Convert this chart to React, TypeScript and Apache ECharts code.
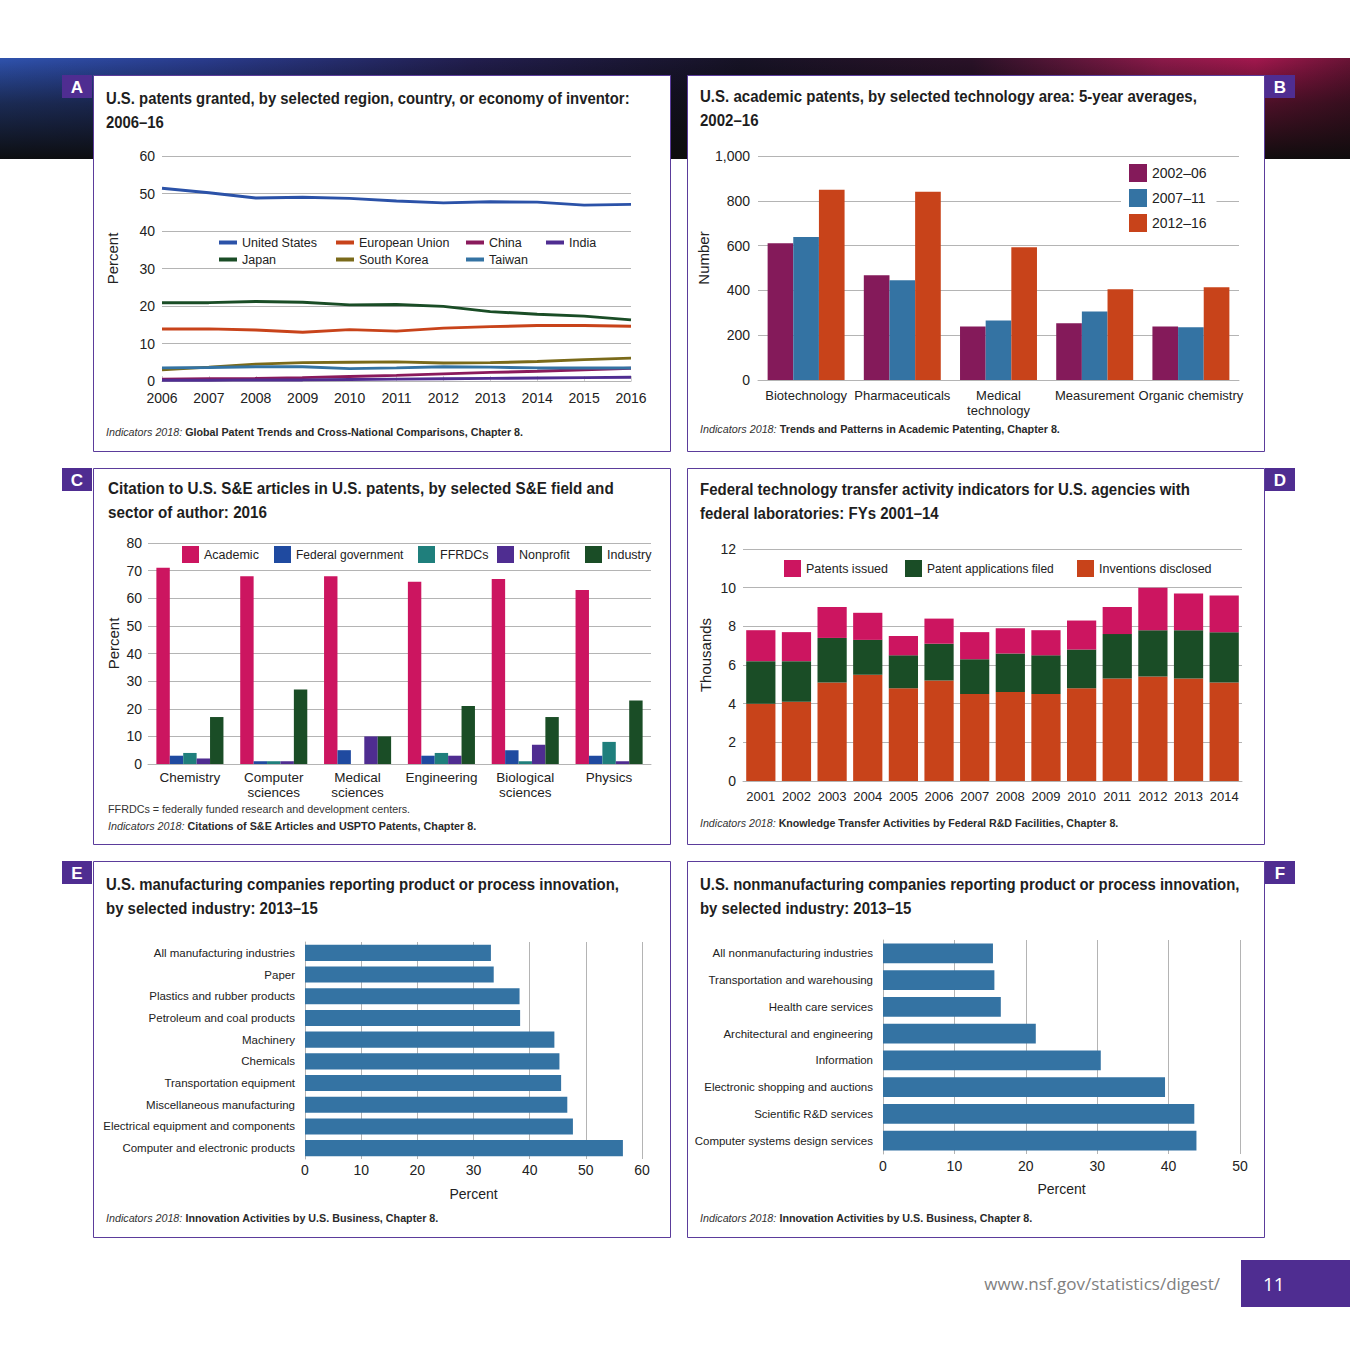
import React, { useEffect, useRef } from "react";
import * as echarts from "echarts";

const FONT = "'Liberation Sans', Arial, sans-serif";

// ---- Panel A: U.S. patents granted by inventor region (percent)
const yearsA = ["2006", "2007", "2008", "2009", "2010", "2011", "2012", "2013", "2014", "2015", "2016"];
const usA = [51.4, 50.2, 48.8, 49.0, 48.7, 48.0, 47.5, 47.8, 47.7, 46.9, 47.1];
const euA = [13.9, 13.9, 13.6, 13.0, 13.7, 13.3, 14.1, 14.5, 14.8, 14.8, 14.6];
const chinaA = [0.5, 0.6, 0.7, 0.9, 1.2, 1.5, 1.9, 2.3, 2.6, 3.0, 3.4];
const indiaA = [0.2, 0.2, 0.3, 0.3, 0.4, 0.5, 0.6, 0.7, 0.8, 0.9, 1.0];
const japanA = [20.9, 20.9, 21.2, 21.0, 20.3, 20.4, 19.9, 18.5, 17.8, 17.3, 16.3];
const koreaA = [3.0, 3.7, 4.5, 4.9, 5.0, 5.1, 4.8, 4.9, 5.2, 5.7, 6.1];
const taiwanA = [3.5, 3.6, 3.8, 3.8, 3.3, 3.5, 3.8, 3.7, 3.5, 3.5, 3.5];

// ---- Panel B: academic patents by technology area
const catsB = ["Biotechnology", "Pharmaceuticals", "Medical\ntechnology", "Measurement", "Organic chemistry"];
const b0206 = [611, 468, 239, 253, 239];
const b0711 = [638, 445, 266, 306, 235];
const b1216 = [849, 840, 593, 405, 414];

// ---- Panel C: citations by field and sector (percent)
const catsC = ["Chemistry", "Computer\nsciences", "Medical\nsciences", "Engineering", "Biological\nsciences", "Physics"];
const cAcademic = [71, 68, 68, 66, 67, 63];
const cFederal = [3, 1, 5, 3, 5, 3];
const cFFRDC = [4, 1, 0, 4, 1, 8];
const cNonprofit = [2, 1, 10, 3, 7, 1];
const cIndustry = [17, 27, 10, 21, 17, 23];

// ---- Panel D: federal technology transfer (thousands)
const yearsD = ["2001", "2002", "2003", "2004", "2005", "2006", "2007", "2008", "2009", "2010", "2011", "2012", "2013", "2014"];
const dInventions = [4.0, 4.1, 5.1, 5.5, 4.8, 5.2, 4.5, 4.6, 4.5, 4.8, 5.3, 5.4, 5.3, 5.1];
const dApplications = [2.2, 2.1, 2.3, 1.8, 1.7, 1.9, 1.8, 2.0, 2.0, 2.0, 2.3, 2.4, 2.5, 2.6];
const dPatents = [1.6, 1.5, 1.6, 1.4, 1.0, 1.3, 1.4, 1.3, 1.3, 1.5, 1.4, 2.2, 1.9, 1.9];

// ---- Panel E: manufacturing innovation (percent)
const catsE = [
  "All manufacturing industries",
  "Paper",
  "Plastics and rubber products",
  "Petroleum and coal products",
  "Machinery",
  "Chemicals",
  "Transportation equipment",
  "Miscellaneous manufacturing",
  "Electrical equipment and components",
  "Computer and electronic products",
];
const valsE = [33.1, 33.6, 38.2, 38.3, 44.4, 45.3, 45.6, 46.7, 47.7, 56.6];

// ---- Panel F: nonmanufacturing innovation (percent)
const catsF = [
  "All nonmanufacturing industries",
  "Transportation and warehousing",
  "Health care services",
  "Architectural and engineering",
  "Information",
  "Electronic shopping and auctions",
  "Scientific R&D services",
  "Computer systems design services",
];
const valsF = [15.4, 15.6, 16.5, 21.4, 30.5, 39.5, 43.6, 43.9];

// ---- Titles and source notes
const titlesText = [
  ["U.S. patents granted, by selected region, country, or economy of inventor:", "2006–16"],
  ["U.S. academic patents, by selected technology area: 5-year averages,", "2002–16"],
  ["Citation to U.S. S&E articles in U.S. patents, by selected S&E field and", "sector of author: 2016"],
  ["Federal technology transfer activity indicators for U.S. agencies with", "federal laboratories: FYs 2001–14"],
  ["U.S. manufacturing companies reporting product or process innovation,", "by selected industry: 2013–15"],
  ["U.S. nonmanufacturing companies reporting product or process innovation,", "by selected industry: 2013–15"],
];
const sourcesText = [
  "Global Patent Trends and Cross-National Comparisons, Chapter 8.",
  "Trends and Patterns in Academic Patenting, Chapter 8.",
  "Citations of S&E Articles and USPTO Patents, Chapter 8.",
  "Knowledge Transfer Activities by Federal R&D Facilities, Chapter 8.",
  "Innovation Activities by U.S. Business, Chapter 8.",
  "Innovation Activities by U.S. Business, Chapter 8.",
];
const noteC = "FFRDCs = federally funded research and development centers.";

const C = {
  blue: "#2b52a8",
  orange: "#c8431a",
  plum: "#8a1a5c",
  purple: "#4f2d91",
  green: "#1a4d26",
  olive: "#7a6a1a",
  steel: "#3473a3",
  crimson: "#cc1560",
  navy: "#1f4aa0",
  teal: "#1f7f7c",
  berry: "#841a5a",
};

const labelStyle = { color: "#222", fontSize: 14, fontFamily: FONT };
const gridLine = { show: true, lineStyle: { color: "#b4b4b4", width: 1 } };

let measureCtx: CanvasRenderingContext2D | null = null;
function measure(text: string, font: string) {
  if (!measureCtx) measureCtx = document.createElement("canvas").getContext("2d");
  measureCtx!.font = font;
  return measureCtx!.measureText(text).width;
}

function legendItem(name: string, left: number, top: number, w: number, h: number, fs: number) {
  return {
    data: [name],
    left,
    top,
    padding: 0,
    itemWidth: w,
    itemHeight: h,
    itemGap: 6,
    icon: "rect",
    selectedMode: false,
    textStyle: { color: "#222", fontSize: fs, fontFamily: FONT },
  };
}

const TITLE_FONT = "bold 17px " + FONT;
function titleGraphic(lines: string[], x: number, y: number, targetW: number) {
  const s = targetW / measure(lines[0], TITLE_FONT);
  return {
    type: "text",
    z: 5,
    x,
    y,
    scaleX: s,
    style: {
      text: lines.join("\n"),
      fill: "#1e1e1e",
      font: TITLE_FONT,
      lineHeight: 24,
      textAlign: "left",
      textVerticalAlign: "top",
    },
  };
}

const NOTE_FS = 11.5;
function noteGraphic(lines: string[], source: string, x: number, y: number, targetW: number) {
  const w =
    measure("Indicators 2018:", "italic " + NOTE_FS + "px " + FONT) +
    measure(" " + source, "bold " + NOTE_FS + "px " + FONT);
  const s = targetW / w;
  const text = [...lines.map((l) => "{r|" + l + "}"), "{i|Indicators 2018:}{n| " + source + "}"].join("\n");
  return {
    type: "text",
    z: 5,
    x,
    y,
    scaleX: s,
    style: {
      text,
      fill: "#222",
      fontSize: NOTE_FS,
      fontFamily: FONT,
      lineHeight: 17,
      textVerticalAlign: "top",
      rich: {
        i: { fontStyle: "italic", fontSize: NOTE_FS, fontFamily: FONT, fill: "#333", lineHeight: 17 },
        n: { fontWeight: "bold", fontSize: NOTE_FS, fontFamily: FONT, fill: "#2a2a2a", lineHeight: 17 },
        r: { fontSize: NOTE_FS, fontFamily: FONT, fill: "#333", lineHeight: 17 },
      },
    },
  };
}

function panel(x: number, y: number, letter: string, labelLeft: boolean) {
  const lx = labelLeft ? x - 31 : x + 578;
  return [
    {
      type: "rect",
      z: -5,
      shape: { x: x + 0.5, y: y + 0.5, width: 577, height: 376 },
      style: { fill: "#fff", stroke: "#5b3c9b", lineWidth: 1 },
    },
    {
      type: "rect",
      z: -4,
      shape: { x: lx, y, width: 30, height: 23 },
      style: { fill: "#4f2d91" },
    },
    {
      type: "text",
      z: -3,
      x: lx + 15,
      y: y + 12,
      style: {
        text: letter,
        fill: "#fff",
        font: "bold 17px " + FONT,
        textAlign: "center",
        textVerticalAlign: "middle",
      },
    },
  ];
}

const yName = (name: string, gap: number) => ({
  name,
  nameLocation: "middle",
  nameGap: gap,
  nameRotate: 90,
  nameTextStyle: { color: "#222", fontSize: 15, fontFamily: FONT, padding: [0, 0, 0, 20] },
});

export default function App() {
  const ref = useRef<HTMLDivElement>(null);

  useEffect(() => {
    if (!ref.current) return;
    const chart = echarts.init(ref.current, null, { renderer: "svg" });

    const option: any = {
      animation: false,
      backgroundColor: "#fff",
      graphic: {
        elements: [
          {
            type: "rect",
            z: -20,
            shape: { x: 0, y: 58, width: 1350, height: 101 },
            style: {
              fill: new echarts.graphic.LinearGradient(0, 0, 1, 0, [
                { offset: 0, color: "#2f52ad" },
                { offset: 0.15, color: "#2a3c8e" },
                { offset: 0.35, color: "#221e4e" },
                { offset: 0.55, color: "#171326" },
                { offset: 0.72, color: "#2a1228" },
                { offset: 0.86, color: "#8c1a4a" },
                { offset: 0.93, color: "#a3184e" },
                { offset: 1, color: "#6a1436" },
              ]),
            },
          },
          {
            type: "rect",
            z: -19,
            shape: { x: 0, y: 58, width: 1350, height: 101 },
            style: {
              fill: new echarts.graphic.LinearGradient(0, 0, 0, 1, [
                { offset: 0, color: "rgba(0,0,0,0)" },
                { offset: 0.45, color: "rgba(10,10,10,0.55)" },
                { offset: 1, color: "rgba(12,12,12,0.97)" },
              ]),
            },
          },
          ...panel(93, 75, "A", true),
          ...panel(687, 75, "B", false),
          ...panel(93, 468, "C", true),
          ...panel(687, 468, "D", false),
          ...panel(93, 861, "E", true),
          ...panel(687, 861, "F", false),
          titleGraphic(titlesText[0], 106, 86, 524),
          titleGraphic(titlesText[1], 700, 84, 497),
          titleGraphic(titlesText[2], 108, 476, 506),
          titleGraphic(titlesText[3], 700, 477, 490),
          titleGraphic(titlesText[4], 106, 872, 513),
          titleGraphic(titlesText[5], 700, 872, 540),
          noteGraphic([], sourcesText[0], 106, 423, 417),
          noteGraphic([], sourcesText[1], 700, 420, 361),
          noteGraphic([noteC], sourcesText[2], 108, 800, 369),
          noteGraphic([], sourcesText[3], 700, 814, 419),
          noteGraphic([], sourcesText[4], 106, 1209, 333),
          noteGraphic([], sourcesText[5], 700, 1209, 333),
          {
            type: "text",
            z: 10,
            x: 1220,
            y: 1283,
            style: {
              text: "www.nsf.gov/statistics/digest/",
              fill: "#808080",
              font: "17px 'Open Sans', sans-serif",
              textAlign: "right",
              textVerticalAlign: "middle",
            },
          },
          {
            type: "rect",
            z: 10,
            shape: { x: 1241, y: 1260, width: 109, height: 47 },
            style: { fill: "#4f2d91" },
          },
          {
            type: "text",
            z: 11,
            x: 1263,
            y: 1284,
            style: {
              text: "11",
              fill: "#fff",
              font: "19px 'Open Sans', sans-serif",
              textAlign: "left",
              textVerticalAlign: "middle",
            },
          },
        ],
      },
      legend: [
        legendItem("United States", 219, 236, 18, 4, 12.5),
        legendItem("European Union", 336, 236, 18, 4, 12.5),
        legendItem("China", 466, 236, 18, 4, 12.5),
        legendItem("India", 546, 236, 18, 4, 12.5),
        legendItem("Japan", 219, 253, 18, 4, 12.5),
        legendItem("South Korea", 336, 253, 18, 4, 12.5),
        legendItem("Taiwan", 466, 253, 18, 4, 12.5),
        {
          data: ["2002–06", "2007–11", "2012–16"],
          orient: "vertical",
          left: 1121,
          top: 162,
          padding: [2, 10, 2, 8],
          backgroundColor: "#fff",
          itemWidth: 18,
          itemHeight: 18,
          itemGap: 7,
          icon: "rect",
          selectedMode: false,
          textStyle: { color: "#222", fontSize: 14, fontFamily: FONT },
        },
        legendItem("Academic", 182, 546, 17, 17, 12.5),
        legendItem("Federal government", 274, 546, 17, 17, 12),
        legendItem("FFRDCs", 418, 546, 17, 17, 12.5),
        legendItem("Nonprofit", 497, 546, 17, 17, 12.5),
        legendItem("Industry", 585, 546, 17, 17, 12.5),
        legendItem("Patents issued", 784, 560, 17, 17, 12.5),
        legendItem("Patent applications filed", 905, 560, 17, 17, 12),
        legendItem("Inventions disclosed", 1077, 560, 17, 17, 12.5),
      ],
      grid: [
        { left: 162, top: 156, width: 469, height: 225 },
        { left: 758, top: 156, width: 481, height: 224 },
        { left: 148, top: 543, width: 503, height: 221 },
        { left: 743, top: 549, width: 499, height: 232 },
        { left: 305, top: 942, width: 337, height: 217 },
        { left: 883, top: 940, width: 357, height: 214 },
      ],
      xAxis: [
        {
          gridIndex: 0,
          type: "category",
          data: yearsA,
          boundaryGap: false,
          axisLine: { lineStyle: { color: "#b4b4b4" } },
          axisTick: { show: true, inside: true, length: 5, lineStyle: { color: "#d0d0d0" } },
          axisLabel: { ...labelStyle, margin: 10, interval: 0 },
        },
        {
          gridIndex: 1,
          type: "category",
          data: catsB,
          axisLine: { lineStyle: { color: "#b4b4b4" } },
          axisTick: { show: false },
          axisLabel: { ...labelStyle, fontSize: 13, margin: 8, interval: 0, lineHeight: 15 },
        },
        {
          gridIndex: 2,
          type: "category",
          data: catsC,
          axisLine: { lineStyle: { color: "#b4b4b4" } },
          axisTick: { show: false },
          axisLabel: { ...labelStyle, fontSize: 13.5, margin: 6, interval: 0, lineHeight: 15 },
        },
        {
          gridIndex: 3,
          type: "category",
          data: yearsD,
          axisLine: { lineStyle: { color: "#b4b4b4" } },
          axisTick: { show: false },
          axisLabel: { ...labelStyle, fontSize: 13, margin: 9, interval: 0 },
        },
        {
          gridIndex: 4,
          type: "value",
          min: 0,
          max: 60,
          interval: 10,
          axisLine: { show: false },
          axisTick: { show: false },
          splitLine: gridLine,
          axisLabel: { ...labelStyle, margin: 4 },
          name: "Percent",
          nameLocation: "middle",
          nameGap: 28,
          nameTextStyle: { color: "#222", fontSize: 14, fontFamily: FONT },
        },
        {
          gridIndex: 5,
          type: "value",
          min: 0,
          max: 50,
          interval: 10,
          axisLine: { show: false },
          axisTick: { show: false },
          splitLine: gridLine,
          axisLabel: { ...labelStyle, margin: 5 },
          name: "Percent",
          nameLocation: "middle",
          nameGap: 28,
          nameTextStyle: { color: "#222", fontSize: 14, fontFamily: FONT },
        },
      ],
      yAxis: [
        {
          gridIndex: 0,
          type: "value",
          min: 0,
          max: 60,
          interval: 10,
          axisLine: { show: false },
          axisTick: { show: false },
          splitLine: gridLine,
          axisLabel: { ...labelStyle, margin: 7 },
          ...yName("Percent", 42),
        },
        {
          gridIndex: 1,
          type: "value",
          min: 0,
          max: 1000,
          interval: 200,
          axisLine: { show: false },
          axisTick: { show: false },
          splitLine: gridLine,
          axisLabel: {
            ...labelStyle,
            margin: 8,
            formatter: (v: number) => v.toLocaleString("en-US"),
          },
          ...yName("Number", 43),
        },
        {
          gridIndex: 2,
          type: "value",
          min: 0,
          max: 80,
          interval: 10,
          axisLine: { show: false },
          axisTick: { show: false },
          splitLine: gridLine,
          axisLabel: { ...labelStyle, margin: 6 },
          ...yName("Percent", 27),
        },
        {
          gridIndex: 3,
          type: "value",
          min: 0,
          max: 12,
          interval: 2,
          axisLine: { show: false },
          axisTick: { show: false },
          splitLine: gridLine,
          axisLabel: { ...labelStyle, margin: 7 },
          ...yName("Thousands", 30),
        },
        {
          gridIndex: 4,
          type: "category",
          data: catsE,
          inverse: true,
          axisLine: { lineStyle: { color: "#b4b4b4" } },
          axisTick: { show: false },
          axisLabel: { ...labelStyle, fontSize: 11.5, margin: 10, interval: 0 },
        },
        {
          gridIndex: 5,
          type: "category",
          data: catsF,
          inverse: true,
          axisLine: { lineStyle: { color: "#b4b4b4" } },
          axisTick: { show: false },
          axisLabel: { ...labelStyle, fontSize: 11.5, margin: 10, interval: 0 },
        },
      ],
      series: [
        ...[
          ["United States", usA, C.blue],
          ["European Union", euA, C.orange],
          ["China", chinaA, C.plum],
          ["India", indiaA, C.purple],
          ["Japan", japanA, C.green],
          ["South Korea", koreaA, C.olive],
          ["Taiwan", taiwanA, C.steel],
        ].map(([name, data, color]: any) => ({
          name,
          type: "line",
          xAxisIndex: 0,
          yAxisIndex: 0,
          data,
          showSymbol: false,
          symbol: "none",
          itemStyle: { color },
          lineStyle: { color, width: 3 },
        })),
        ...[
          ["2002–06", b0206, C.berry],
          ["2007–11", b0711, C.steel],
          ["2012–16", b1216, C.orange],
        ].map(([name, data, color]: any) => ({
          name,
          type: "bar",
          xAxisIndex: 1,
          yAxisIndex: 1,
          data,
          barGap: "0%",
          barCategoryGap: "20%",
          itemStyle: { color },
        })),
        ...[
          ["Academic", cAcademic, C.crimson],
          ["Federal government", cFederal, C.navy],
          ["FFRDCs", cFFRDC, C.teal],
          ["Nonprofit", cNonprofit, C.purple],
          ["Industry", cIndustry, C.green],
        ].map(([name, data, color]: any) => ({
          name,
          type: "bar",
          xAxisIndex: 2,
          yAxisIndex: 2,
          data,
          barGap: "0%",
          barCategoryGap: "20%",
          itemStyle: { color },
        })),
        ...[
          ["Inventions disclosed", dInventions, C.orange],
          ["Patent applications filed", dApplications, C.green],
          ["Patents issued", dPatents, C.crimson],
        ].map(([name, data, color]: any) => ({
          name,
          type: "bar",
          stack: "d",
          xAxisIndex: 3,
          yAxisIndex: 3,
          data,
          barCategoryGap: "18%",
          itemStyle: { color },
        })),
        {
          name: "Manufacturing",
          type: "bar",
          xAxisIndex: 4,
          yAxisIndex: 4,
          data: valsE,
          barCategoryGap: "26%",
          itemStyle: { color: C.steel },
        },
        {
          name: "Nonmanufacturing",
          type: "bar",
          xAxisIndex: 5,
          yAxisIndex: 5,
          data: valsF,
          barCategoryGap: "27%",
          itemStyle: { color: C.steel },
        },
      ],
    };

    chart.setOption(option);
    return () => chart.dispose();
  }, []);

  return (
    <div
      ref={ref}
      style={{ position: "absolute", left: 0, top: 0, width: 1350, height: 1350 }}
    />
  );
}
